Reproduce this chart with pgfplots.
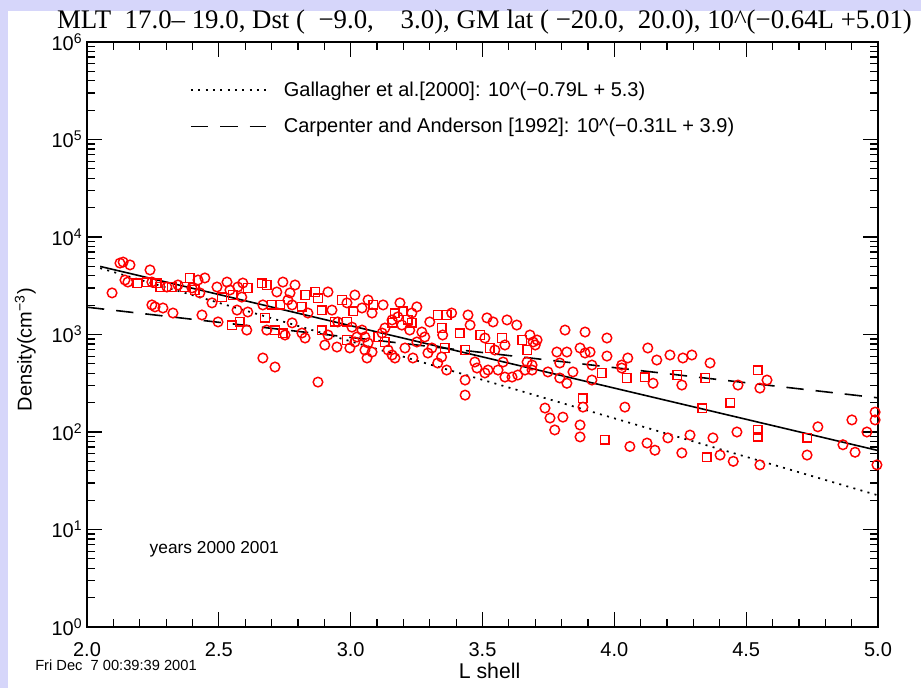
\documentclass[border=0pt]{standalone}
\usepackage{fontspec}
\setmainfont{Liberation Sans}
\newfontfamily\titlefont{Liberation Serif}
\usepackage{graphicx}
\usepackage{pgfplots}
\pgfplotsset{compat=1.18}
\definecolor{lav}{RGB}{214,214,250}
\definecolor{idlred}{RGB}{255,0,0}
\pgfdeclareplotmark{rsq}{%
  \pgfsetstrokecolor{idlred}%
  \pgfpathrectangle{\pgfqpoint{-\pgfplotmarksize}{-\pgfplotmarksize}}{\pgfqpoint{2\pgfplotmarksize}{2\pgfplotmarksize}}%
  \pgfusepathqstroke}
\pgfdeclareplotmark{rci}{%
  \pgfsetstrokecolor{idlred}%
  \pgfpathcircle{\pgfpointorigin}{\pgfplotmarksize}%
  \pgfusepathqstroke}
\begin{document}
\begin{tikzpicture}
\begin{scope}[x=0.75pt,y=0.75pt]
\fill[lav] (0,0) rectangle (921,688);
\fill[white] (8,0) rectangle (921,677);
\end{scope}
\begin{axis}[
 at={(65.25pt,45.75pt)}, anchor=south west,
 scale only axis, width=593.25pt, height=438.75pt,
 xmin=2, xmax=5, ymode=log, ymin=1, ymax=1e6,
 axis line style={line width=1.1pt},
 every tick/.style={black, line width=0.9pt},
 major tick length=11pt, minor tick length=6pt,
 xtick={2,2.5,3,3.5,4,4.5,5},
 xticklabels={2.0,2.5,3.0,3.5,4.0,4.5,5.0},
 minor x tick num=4,
 ytick={1,10,100,1000,10000,100000,1000000},
 yticklabels={10\textsuperscript{0},10\textsuperscript{1},10\textsuperscript{2},10\textsuperscript{3},10\textsuperscript{4},10\textsuperscript{5},10\textsuperscript{6}},
 ticklabel style={font=\fontsize{15}{18}\selectfont},
 xticklabel style={yshift=-8pt},
 xlabel={L shell},
 xlabel style={at={(axis description cs:0.509,-0.075)}, anchor=center, font=\fontsize{16}{19}\selectfont},
 ylabel={Density(cm\textsuperscript{−3})},
 ylabel style={at={(axis description cs:-0.078,0.474)}, anchor=center, rotate=0, font=\fontsize{15}{18}\selectfont},
 legend style={at={(0.13,0.937)}, anchor=north west, draw=none, fill=none, inner sep=0pt,
   font=\fontsize{15}{18}\selectfont, row sep=11pt, legend cell align=left,
   nodes={inner sep=2pt},
   /tikz/every odd column/.append style={column sep=11pt}},
 legend image code/.code={\draw[#1] (0pt,0pt) -- (56pt,0pt);},
]
\addplot[only marks, mark=rci, mark size=3.6pt, idlred, mark options={solid, line width=1.1pt}, forget plot] table {
x y
2.137 5530
2.163 5170
2.125 5400
2.095 2670
2.144 3620
2.155 3450
2.246 3450
2.239 4590
2.303 3070
2.345 3220
2.398 3000
2.421 3620
2.447 3800
2.428 2670
2.474 2110
2.493 3070
2.531 3450
2.542 2860
2.572 3070
2.591 3370
2.587 2420
2.610 1700
2.569 1780
2.720 2730
2.743 3450
2.667 2010
2.762 2260
2.770 2670
2.246 2010
2.258 1920
2.288 1870
2.326 1660
2.436 1585
2.497 1345
2.606 1110
2.682 1110
2.751 988
2.667 574
2.713 464
2.876 325
2.789 3220
2.914 2730
2.778 2010
2.838 1660
2.929 1780
2.986 2110
3.016 2540
3.043 1870
3.066 2260
3.123 2010
3.081 1660
3.187 2110
3.232 1660
3.251 1920
2.778 1315
2.815 1035
2.827 920
2.914 988
2.951 1345
3.005 1190
3.043 1110
3.024 943
3.054 943
3.066 818
3.119 1035
3.130 1165
3.157 1410
3.179 1515
3.194 1250
3.224 1110
2.902 780
2.948 744
3.016 838
2.997 727
3.054 693
3.062 574
3.081 661
3.142 693
3.157 616
3.168 574
3.206 727
3.236 574
3.251 838
3.270 1060
3.281 943
3.300 1345
3.383 1660
3.349 988
3.308 727
3.293 646
3.330 510
3.364 432
3.345 588
3.445 1585
3.453 1250
3.471 522
3.479 453
3.434 341
3.434 239
3.509 920
3.517 1480
3.521 432
3.509 403
3.540 1345
3.593 1410
3.630 1250
3.547 693
3.585 780
3.578 522
3.559 432
3.585 366
3.612 366
3.634 384
3.680 988
3.692 838
3.707 878
3.700 780
3.669 522
3.688 486
3.661 432
3.688 432
3.813 1110
3.889 1060
3.972 920
4.127 727
4.211 616
4.260 574
4.294 616
3.782 661
3.820 661
3.870 727
3.889 646
3.908 661
3.972 601
3.915 486
4.028 486
4.051 574
4.028 453
3.793 510
3.748 413
3.843 413
3.793 358
3.820 316
3.915 341
4.161 547
4.147 316
4.256 303
3.881 180
4.040 180
3.737 176
3.756 139
3.805 142
3.774 105
3.870 118
3.870 89
4.059 71
4.124 77
4.154 65
4.203 87
4.287 93
4.256 61
4.363 510
4.579 341
4.552 282
4.469 303
4.901 133
4.989 160
4.989 133
4.772 113
4.958 100
4.374 87
4.465 100
4.867 74
4.913 62
4.401 58
4.451 50
4.552 46
4.731 58
4.996 46
};
\addplot[only marks, mark=rsq, mark size=3.2pt, idlred, mark options={solid, line width=1.1pt}, forget plot] table {
x y
2.190 3370
2.227 3450
2.265 3370
2.277 3070
2.322 3070
2.371 3070
2.390 3800
2.409 2860
2.512 2420
2.553 2540
2.610 3000
2.663 3370
2.682 3220
2.701 2010
2.732 2010
2.550 1250
2.580 1345
2.675 1480
2.713 1110
2.743 1035
2.865 2730
2.827 2540
2.876 2360
2.815 1920
2.891 1780
2.967 2260
3.009 1740
3.085 2010
3.198 1740
3.168 1660
2.891 1110
2.940 1345
2.986 1345
3.104 943
3.157 1315
3.217 1410
3.232 1315
2.986 878
3.130 838
3.330 1585
3.364 1585
3.345 1165
3.357 727
3.414 1035
3.434 693
3.491 988
3.528 727
3.574 920
3.650 878
3.669 693
3.953 403
4.047 358
4.116 366
4.238 384
3.881 223
3.964 83
4.544 432
4.344 358
4.333 176
4.439 199
4.544 105
4.544 89
4.731 87
4.351 55
};
\addplot[black, line width=1.2pt, forget plot] coordinates {(2.05,4990) (5,64.6)};
\addplot[black, line width=1.3pt, dash pattern=on 1.5pt off 4pt] coordinates {(2.05,4790) (5,22.4)};
\addlegendentry{Gallagher et al.[2000]: 10\textasciicircum(−0.79L + 5.3)}
\addplot[black, line width=1.2pt, dash pattern=on 13pt off 9pt] coordinates {(2.0,1905) (5,224)};
\addlegendentry{Carpenter and Anderson [1992]: 10\textasciicircum(−0.31L + 3.9)}
\node[anchor=west, font=\fontsize{13}{15}\selectfont] at (axis cs:2.22,6.3) {years 2000 2001};
\end{axis}
\begin{scope}[x=0.75pt,y=0.75pt]
\node[anchor=west, inner sep=0pt, font=\fontsize{11}{13}\selectfont] at (35,23) {Fri Dec\ \ 7 00:39:39 2001};
\node[inner sep=0pt] at (484.5,666) {\resizebox{641pt}{!}{\titlefont MLT\ \ 17.0– 19.0, Dst (\ \ −9.0,\ \ \ \ 3.0), GM lat ( −20.0,\ \ 20.0), 10\textasciicircum(−0.64L +5.01)}};
\end{scope}
\end{tikzpicture}
\end{document}
